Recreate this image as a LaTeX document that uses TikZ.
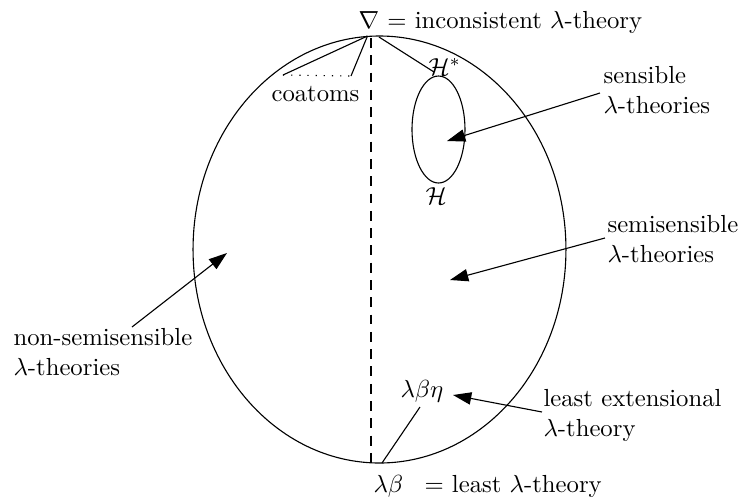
\documentclass[tikz,border=0pt]{standalone}
\usetikzlibrary{arrows.meta}
\begin{document}
\begin{tikzpicture}[x=0.4049pt,y=-0.4049pt, line width=0.45pt,
  lbl/.style={inner sep=0pt, anchor=base west},
  twolines/.style={lbl, align=left},
  pointer/.style={-{Triangle[length=7.4pt,width=5pt]}},
  dashline/.style={dash pattern=on 4pt off 3pt},
  dotline/.style={dash pattern=on 0.5pt off 2.8pt},
]
\useasboundingbox (0,0) rectangle (738,500);
% ellipses
\draw (379.5,249.5) ellipse [x radius=75.5pt, y radius=86.45pt];
\draw (438.5,129.5) ellipse [x radius=10.73pt, y radius=21.66pt];
% labels (two-line nodes are anchored at the baseline of their last line)
\node[lbl] (top) at (358,28) {$\nabla$ = inconsistent $\lambda$-theory};
\node[lbl] (coat) at (271,101) {coatoms};
\node[lbl] (hstar) at (428,75) {$\mathcal{H}^*$};
\node[lbl] (h) at (425,204) {$\mathcal{H}$};
\node[twolines] (sens) at (603,113) {sensible\\$\lambda$-theories};
\node[twolines] (semi) at (607,262) {semisensible\\$\lambda$-theories};
\node[twolines] (nonsemi) at (13,375) {non-semisensible\\$\lambda$-theories};
\node[twolines] (lext) at (543,436) {least extensional\\$\lambda$-theory};
\node[lbl] (lbe) at (400,397) {$\lambda\beta\eta$};
\node[lbl] (lb) at (373,492) {$\lambda\beta$\hspace{5.3pt} = least $\lambda$-theory};
% coordinates
\coordinate (apex) at (367.5,36);
\coordinate (c1) at (283,75);
\coordinate (c2) at (351,76);
\coordinate (hs0) at (379,37);
\coordinate (hs1) at (434,72);
\coordinate (dtop) at (371,38);
\coordinate (dbot) at (371,463);
\coordinate (bot) at (382,463);
\coordinate (be) at (420,407);
\coordinate (sensA) at (600,93);
\coordinate (sensB) at (447,141);
\coordinate (semiA) at (605,238);
\coordinate (semiB) at (450,280);
\coordinate (nonA) at (132,327);
\coordinate (nonB) at (227,253);
\coordinate (lextA) at (542,412);
\coordinate (lextB) at (453,395);
% connectors
\draw (apex) -- (c1);
\draw (apex) -- (c2);
\draw[dotline] (c1) -- (c2);
\draw (hs0) -- (hs1);
\draw[dashline] (dtop) -- (dbot);
\draw (bot) -- (be);
\draw[pointer] (sensA) -- (sensB);
\draw[pointer] (semiA) -- (semiB);
\draw[pointer] (nonA) -- (nonB);
\draw[pointer] (lextA) -- (lextB);
\end{tikzpicture}
\end{document}
